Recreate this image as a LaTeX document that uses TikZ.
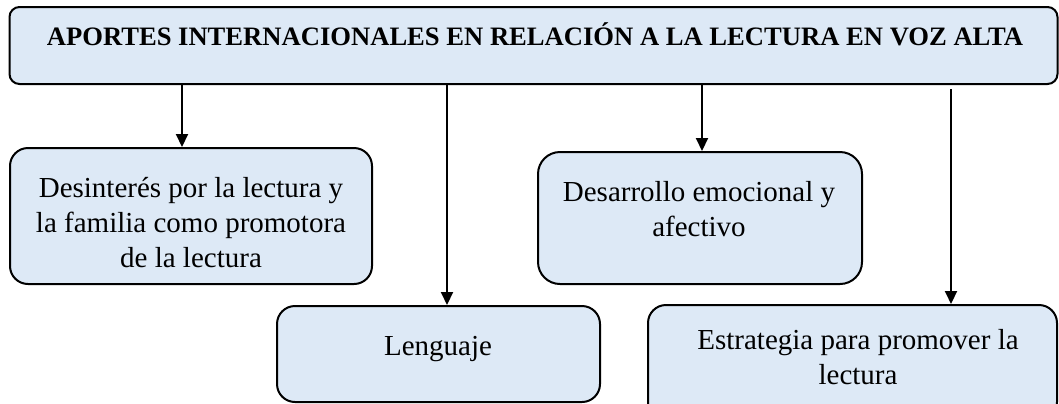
\documentclass[tikz,border=0pt]{standalone}
\usepackage{fontspec}
\setmainfont{Liberation Serif}
\usetikzlibrary{arrows.meta}
\definecolor{boxfill}{RGB}{221,233,246}
\tikzset{
  box/.style={draw=black, line width=1pt, fill=boxfill, rounded corners=9pt, inner sep=0pt},
  txt/.style={align=center, inner sep=0pt, font=\fontsize{14.5}{17.5}\selectfont},
  ttl/.style={inner sep=0pt, font=\fontsize{13.3}{15}\selectfont\bfseries},
  arr/.style={line width=1pt, -{Triangle[length=6.5pt,width=6pt]}}
}
\begin{document}
\begin{tikzpicture}[x=0.5pt,y=-0.5pt]
\useasboundingbox (0,0) rectangle (1059,403);
\clip (0,0) rectangle (1059,403);
% boxes
\node[box, rounded corners=5pt, minimum width=524pt, minimum height=38.5pt] (top) at (533.5,45.5) {};
\node[box, minimum width=181pt, minimum height=68pt] (b1) at (191,216) {};
\node[box, minimum width=161.5pt, minimum height=48pt] (b2) at (438.5,354) {};
\node[box, rounded corners=11pt, minimum width=162pt, minimum height=66pt] (b3) at (700,218) {};
\node[box, minimum width=204.5pt, minimum height=57.5pt] (b4) at (852.5,362.5) {};
% texts
\node[ttl, anchor=base] (t0) at (535,45) {APORTES INTERNACIONALES EN RELACIÓN A LA LECTURA EN VOZ ALTA};
\node[txt] (t1) at (191,223) {Desinterés por la lectura y\\la familia como promotora\\de la lectura};
\node[txt, anchor=base] (t2) at (438,355) {Lenguaje};
\node[txt] (t3) at (699,209) {Desarrollo emocional y\\afectivo};
\node[txt] (t4) at (858,357) {Estrategia para promover la\\lectura};
% arrow x positions
\coordinate (a1) at (182,0);
\coordinate (a2) at (447,0);
\coordinate (a3) at (702,0);
\coordinate (a4) at (951,0);
% connectors
\draw[arr] (top.south -| a1) -- (b1.north -| a1);
\draw[arr] (top.south -| a2) -- (b2.north -| a2);
\draw[arr] (top.south -| a3) -- (b3.north -| a3);
\draw[arr, shorten <=2pt] (top.south -| a4) -- (b4.north -| a4);
\end{tikzpicture}
\end{document}
